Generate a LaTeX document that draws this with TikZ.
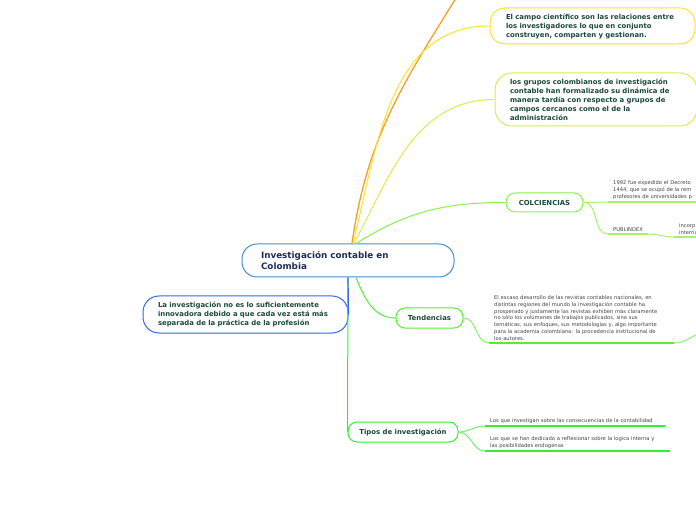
\documentclass[tikz,border=0pt]{standalone}
\usepackage{fontspec}
\setmainfont{DejaVu Sans}
\usepackage{tikz}
\usetikzlibrary{positioning}

\definecolor{txtgreen}{HTML}{1B4A3A}
\definecolor{txtnavy}{HTML}{1F2D5A}
\definecolor{leafgray}{HTML}{444444}
\definecolor{rootblue}{HTML}{4A90D0}
\definecolor{leftblue}{HTML}{3366EE}
\definecolor{orangeln}{HTML}{F5A02A}
\definecolor{yellowln}{HTML}{FFE22E}
\definecolor{limeln}{HTML}{D6F244}
\definecolor{colgreen}{HTML}{8CF04A}
\definecolor{tendgreen}{HTML}{55EE33}
\definecolor{tipgreen}{HTML}{33EE33}

\tikzset{
  topic/.style={draw, line width=1pt, rounded corners=9pt, align=left,
    font=\bfseries\fontsize{6.9}{9}\selectfont, text=txtgreen},
  subtopic/.style={topic, align=center, minimum height=19pt, inner xsep=0pt},
  leaf/.style={anchor=south west, inner xsep=5pt, inner ysep=2.5pt, align=left,
    font=\fontsize{5.2}{6.8}\selectfont, text=leafgray},
  uline/.style={line width=1.8pt},
  conn/.style={line width=1pt},
}

\begin{document}
\begin{tikzpicture}[x=1pt,y=1pt]
\useasboundingbox (0,0) rectangle (696,520);
\clip (0,0) rectangle (696,520);
\fill[white] (0,0) rectangle (696,520);

% main topic
\node[topic, draw=rootblue, rounded corners=15pt, text=txtnavy, font=\bfseries\fontsize{8.8}{10.5}\selectfont,
  minimum width=212pt, minimum height=33pt, inner xsep=19pt, text width=174pt] (root) at (348,259.5)
  {Investigación contable en\\Colombia};

% main branches
\node[topic, draw=leftblue, rounded corners=16pt, minimum width=205pt, minimum height=37pt,
  inner xsep=15pt, text width=175pt] (practica) at (245.5,205.5)
  {La investigación no es lo suficientemente\\innovadora debido a que cada vez está más\\separada de la práctica de la profesión};
\node[topic, draw=yellowln, rounded corners=15pt, minimum width=205pt, minimum height=36pt,
  inner xsep=16pt, text width=173pt] (campo) at (592.5,494)
  {El campo científico son las relaciones entre\\los investigadores lo que en conjunto\\construyen, comparten y gestionan.};
\node[topic, draw=limeln, rounded corners=17pt, minimum width=202pt, minimum height=53pt,
  inner xsep=15pt, text width=172pt] (grupos) at (596,420.5)
  {los grupos colombianos de investigación\\contable han formalizado su dinámica de\\manera tardía con respecto a grupos de\\campos cercanos como el de la\\administración};
\node[subtopic, draw=colgreen, minimum width=77pt] (colciencias) at (544.5,317.5) {COLCIENCIAS};
\node[subtopic, draw=tendgreen, minimum width=67pt, minimum height=20pt] (tendencias) at (429.5,202) {Tendencias};
\node[subtopic, draw=tipgreen, minimum width=110pt, minimum height=20pt] (tipos) at (403,88) {Tipos de investigación};
\coordinate (naranja) at (458,525);

% leaves
\node[leaf, text width=100pt] (decreto) at (608,318)
  {1992 fue expedido el Decreto\\1444, que se ocupó de la rem\\profesores de universidades p};
\node[leaf] (publindex) at (608,286) {PUBLINDEX};
\node[leaf, text width=40pt] (incorp) at (674,283) {incorp\\internu};
\node[leaf, text width=175pt] (escaso) at (489,177)
  {El escaso desarrollo de las revistas contables nacionales, en\\distintas regiones del mundo la investigación contable ha\\prosperado y justamente las revistas exhiben más claramente\\no sólo los volúmenes de trabajos publicados, sino sus\\temáticas, sus enfoques, sus metodologías y, algo importante\\para la academia colombiana: la procedencia institucional de\\los autores.};
\coordinate (escasoout) at (702,188);
\node[leaf, text width=170pt] (consecuencias) at (485,94)
  {Los que investigan sobre las consecuencias de la contabilidad};
\node[leaf, text width=175pt] (endogenas) at (485,69)
  {Los que se han dedicado a reflexionar sobre la logica interna y\\las posibilidades endogenas};

% underlines
\foreach \n/\c in {decreto/colgreen!80, publindex/colgreen!80, incorp/colgreen!80,
  escaso/tendgreen, consecuencias/tipgreen, endogenas/tipgreen}
  \draw[uline, \c] (\n.south west) -- (\n.south east);

% connectors
\path[conn]
  (root.south) edge[tipgreen] (tipos.west)
  (root.south) edge[leftblue, line width=1.2pt] (practica.east)
  ([xshift=4pt]root.north) edge[orangeln, line width=1.3pt, out=82, in=238] (naranja)
  ([xshift=5pt]root.north) edge[yellowln, out=76, in=180] (campo.west)
  ([xshift=6pt]root.north) edge[limeln, out=62, in=180] (grupos.west)
  ([xshift=8pt]root.north) edge[colgreen, out=32, in=180] (colciencias.west)
  ([xshift=8pt]root.south) edge[tendgreen, out=-68, in=180] (tendencias.west)
  (colciencias.east) edge[colgreen!80, out=0, in=180] (decreto.south west)
  (colciencias.east) edge[colgreen!80, out=0, in=180] (publindex.south west)
  (publindex.south east) edge[colgreen!80, out=0, in=180] (incorp.south west)
  (tendencias.east) edge[tendgreen!70, out=0, in=180] (escaso.south west)
  (escaso.south east) edge[tendgreen!70, out=0, in=200] (escasoout)
  (tipos.east) edge[tipgreen!70, out=0, in=180] (consecuencias.south west)
  (tipos.east) edge[tipgreen!70, out=0, in=180] (endogenas.south west);
\end{tikzpicture}
\end{document}
